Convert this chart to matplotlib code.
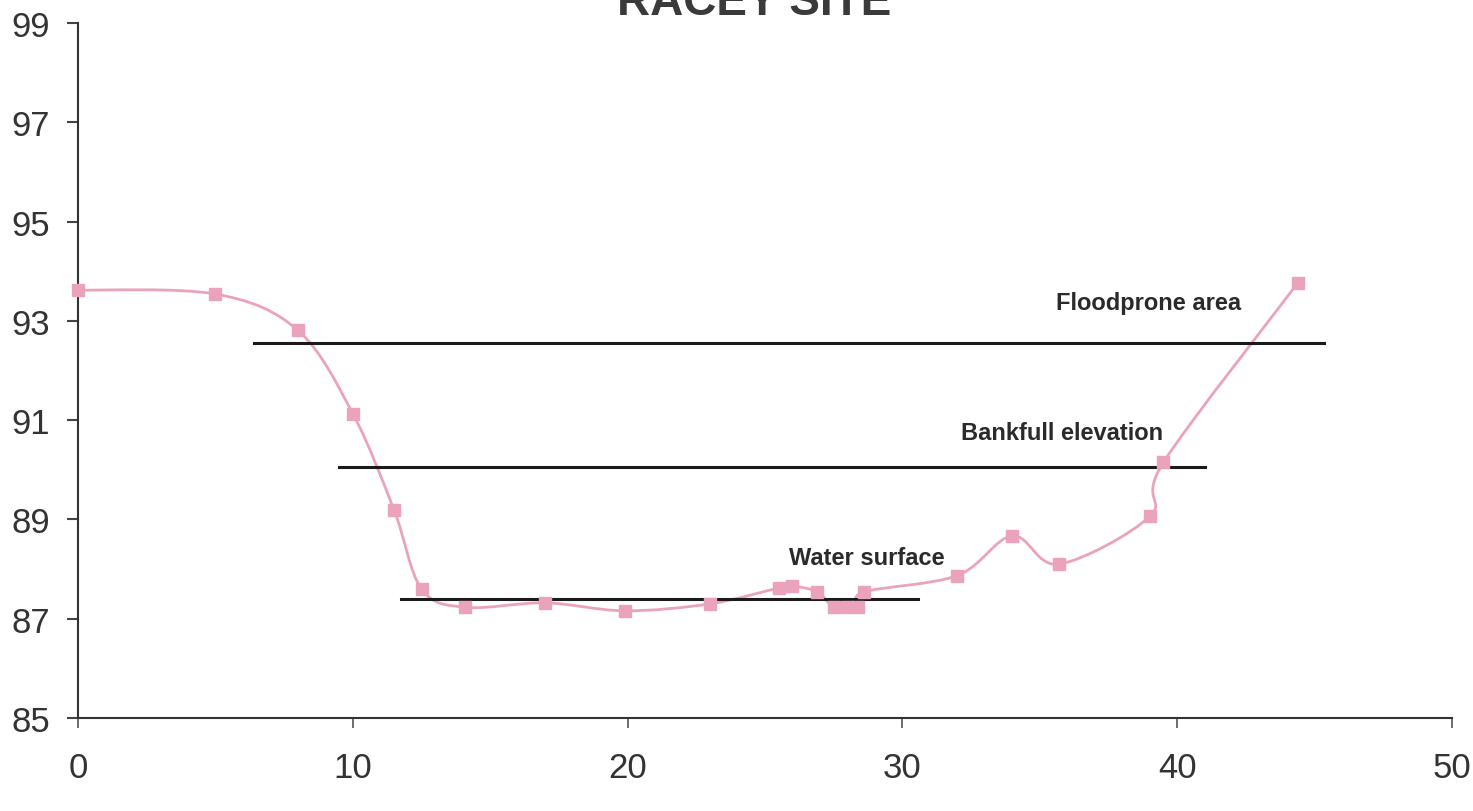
import matplotlib
matplotlib.use("Agg")
from matplotlib import pyplot as plt
from matplotlib.path import Path
from matplotlib.patches import PathPatch
import numpy as np

# cross-section survey points (distance, elevation)
dist = [0.0, 5.0, 8.0, 10.0, 11.5, 12.5, 14.1, 17.0, 19.9, 23.0, 25.5, 26.0,
        26.9, 27.5, 28.0, 28.4, 28.6, 32.0, 34.0, 35.7, 39.0, 39.5, 44.4]
elev = [93.62, 93.54, 92.81, 91.13, 89.19, 87.60, 87.23, 87.32, 87.16, 87.30,
        87.62, 87.66, 87.54, 87.23, 87.23, 87.23, 87.54, 87.87, 88.67, 88.10,
        89.06, 90.15, 93.77]

# reference levels: name, elevation, start, end
levels = ["Floodprone area", "Bankfull elevation", "Water surface"]
level_elev = [92.55, 90.06, 87.40]
level_x0 = [6.4, 9.5, 11.75]
level_x1 = [45.35, 41.0, 30.55]
label_x = [38.95, 35.8, 28.7]
label_y = [93.36, 90.76, 88.24]

title = "RACEY SITE"

pink = "#eba3bd"


def smooth_path(x, y):
    # excel style smoothed line: catmull-rom as cubic beziers
    x = np.asarray(x)
    y = np.asarray(y)
    n = len(x)
    verts = [(x[0], y[0])]
    codes = [Path.MOVETO]
    for i in range(n - 1):
        p0 = max(i - 1, 0)
        p3 = min(i + 2, n - 1)
        c1 = (x[i] + (x[i + 1] - x[p0]) / 6, y[i] + (y[i + 1] - y[p0]) / 6)
        c2 = (x[i + 1] - (x[p3] - x[i]) / 6, y[i + 1] - (y[p3] - y[i]) / 6)
        verts += [c1, c2, (x[i + 1], y[i + 1])]
        codes += [Path.CURVE4] * 3
    return Path(verts, codes)


plt.rcParams['font.family'] = ['Liberation Sans', 'DejaVu Sans']

fig = plt.figure(figsize=(14.73, 8.12), dpi=100)
ax = fig.add_axes([0.053, 0.1145, 0.9327, 0.856])

ax.add_patch(PathPatch(smooth_path(dist, elev), facecolor='none',
                       edgecolor=pink, lw=2, clip_on=False))
ax.plot(dist, elev, ls='none', marker='s', ms=8, color=pink, mec=pink,
        clip_on=False, zorder=3)

for name, yv, a, b, lx, ly in zip(levels, level_elev, level_x0, level_x1,
                                   label_x, label_y):
    ax.plot([a, b], [yv, yv], color='#1a1a1a', lw=2.2, zorder=2)
    ax.text(lx, ly, name, ha='center', va='center', fontsize=17,
            fontweight='bold', color='#2a2a2a')

ax.set_xlim(0, 50)
ax.set_ylim(85, 99)
ax.set_xticks(range(0, 51, 10))
ax.set_yticks(range(85, 100, 2))
for s in ['top', 'right']:
    ax.spines[s].set_visible(False)
for s in ['left', 'bottom']:
    ax.spines[s].set_color('#333333')
    ax.spines[s].set_linewidth(1.5)
ax.tick_params(axis='y', length=8, width=1.5, color='#444444',
               labelsize=25, pad=12, labelcolor='#333333')
ax.tick_params(axis='x', length=7, width=1.2, color='#555555',
               labelsize=25, pad=17, labelcolor='#333333')

fig.text(0.512, 0.982, title, ha='center', va='baseline', fontsize=33,
         fontweight='bold', color='#3a3a3a')

fig.savefig('out.png', dpi=100, facecolor='white')
